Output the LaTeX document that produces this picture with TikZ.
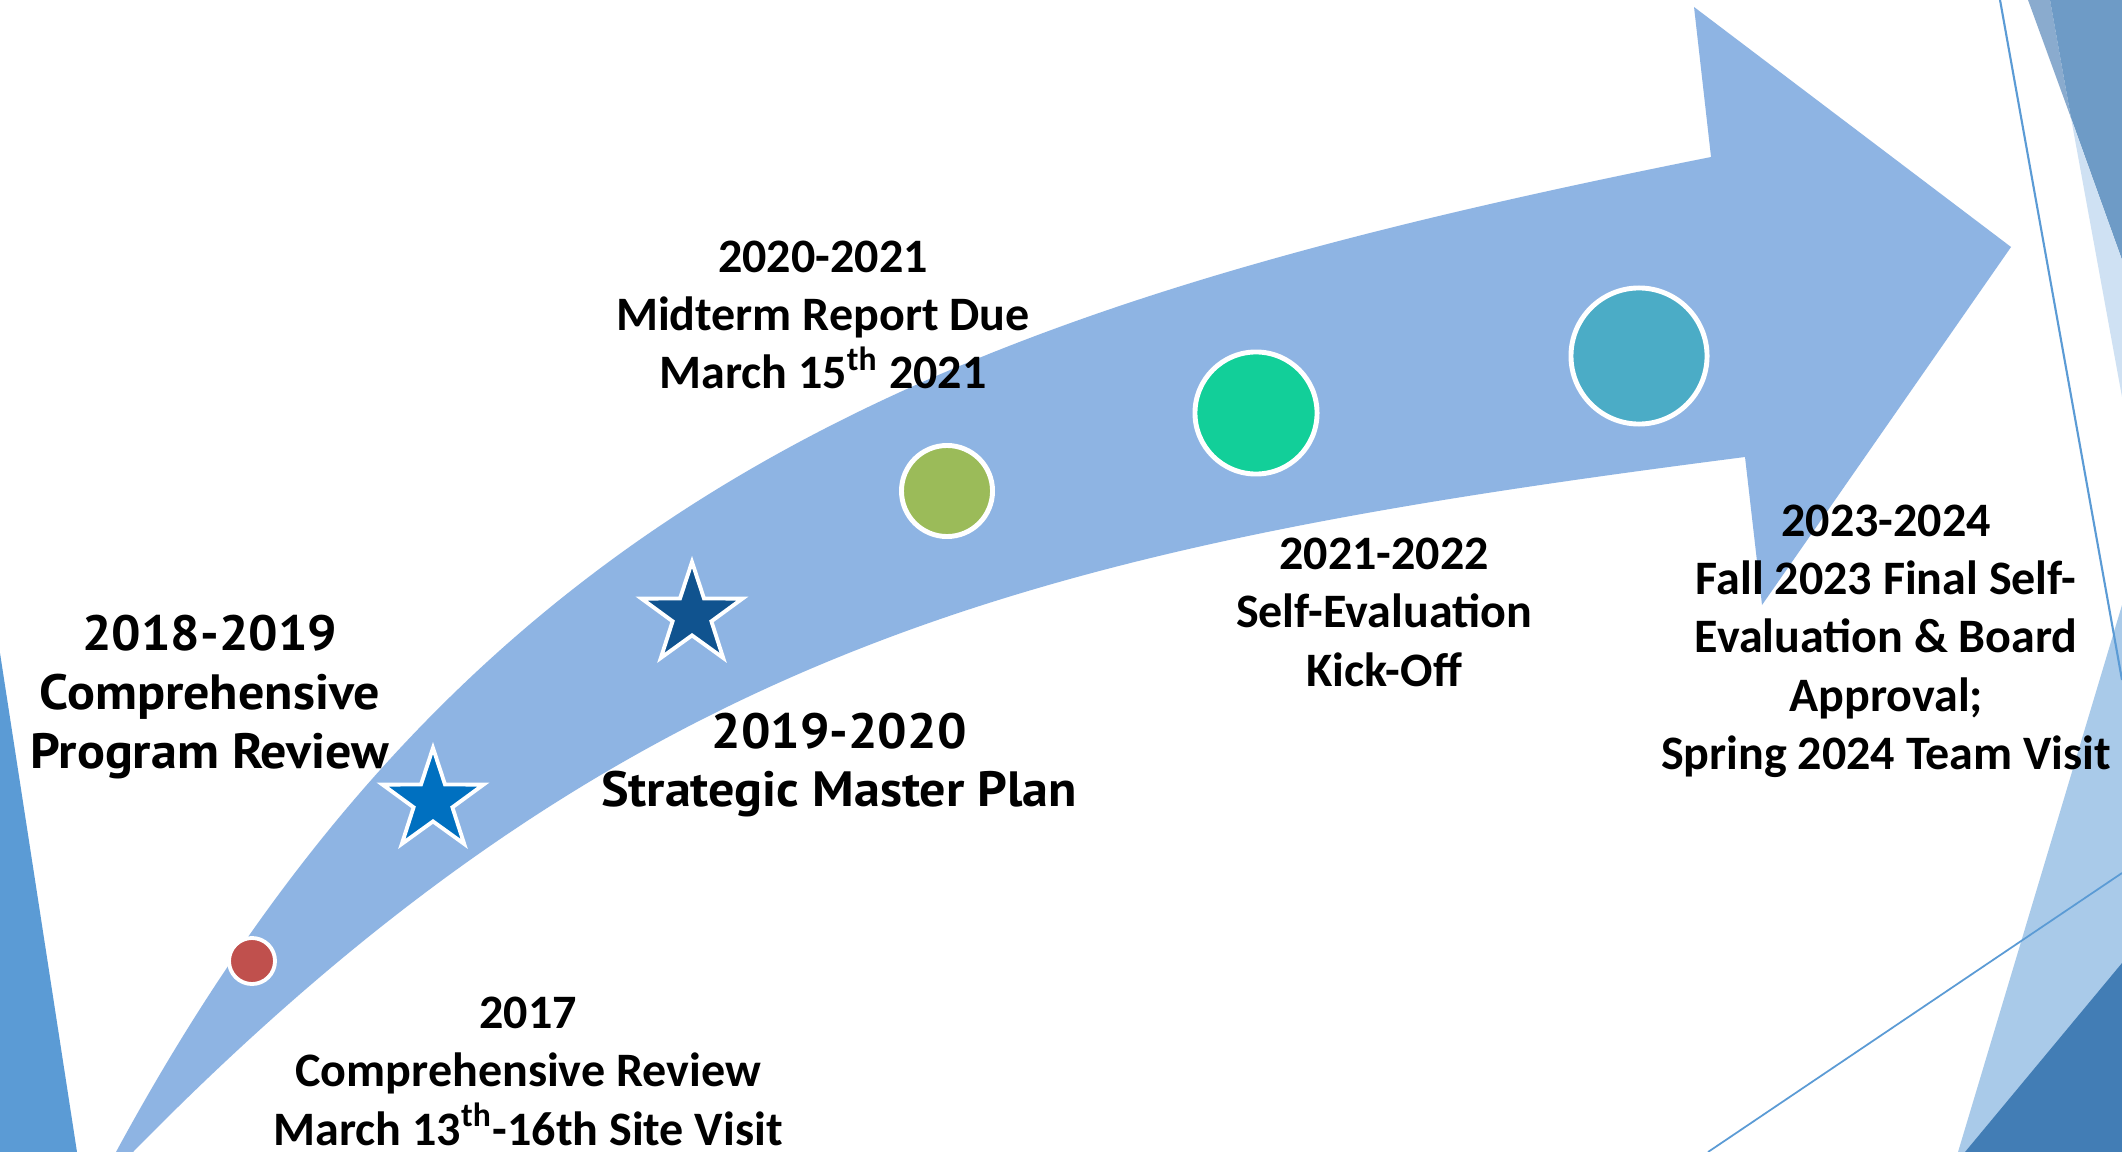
\documentclass[tikz,border=0pt]{standalone}
\usepackage{fontspec}
\setmainfont{Carlito}
\newfontfamily\trebfont[FakeStretch=1.05]{PT Sans}
\usetikzlibrary{shapes.geometric,positioning}
\definecolor{bandblue}{HTML}{8EB4E3}
\definecolor{edgeblue}{HTML}{5B9BD5}
\definecolor{facetA}{HTML}{8AABCE}
\definecolor{facetB}{HTML}{6E9BC6}
\definecolor{facetC}{HTML}{CFE1F3}
\definecolor{facetD}{HTML}{A9CAE9}
\definecolor{facetE}{HTML}{427DB5}
\definecolor{dotred}{HTML}{C0504D}
\definecolor{dotolive}{HTML}{9BBB59}
\definecolor{dotgreen}{HTML}{12CF99}
\definecolor{dotteal}{HTML}{4BACC6}
\definecolor{starblue}{HTML}{0070C0}
\definecolor{stardark}{HTML}{10538F}
\begin{document}
\begin{tikzpicture}[x=0.01cm,y=-0.01cm,on grid,
  dot/.style={circle,draw=white,line width=1.4pt,inner sep=0pt},
  mstar/.style={star,star points=5,star point ratio=2.6,draw=white,line width=1.1pt,inner sep=0pt,minimum size=1.06cm},
  lbl/.style={align=center,inner sep=0pt,font=\bfseries\fontsize{13.66pt}{16.6pt}\selectfont},
  tlbl/.style={lbl,font=\trebfont\bfseries\fontsize{14.1pt}{16.7pt}\selectfont}]
  \useasboundingbox (0,0) rectangle (2122,1152);
  \clip (0,0) rectangle (2122,1152);
  \fill[white] (0,0) rectangle (2122,1152);
  \fill[edgeblue] (0,653) -- (77,1152) -- (0,1152) -- cycle;
  \fill[facetA] (2028,0) -- (2050,0) -- (2071,118) -- cycle;
  \fill[facetB] (2050,0) -- (2122,0) -- (2122,260) -- (2071,118) -- cycle;
  \fill[facetC] (2071,118) -- (2122,260) -- (2122,397) -- cycle;
  \fill[facetD] (1958,1152) -- (2122,605) -- (2122,1152) -- cycle;
  \fill[facetE] (1965,1152) -- (2122,963) -- (2122,1152) -- cycle;
  \draw[edgeblue,line width=0.6pt] (2000,0) -- (2122,680);
  \draw[edgeblue,line width=0.5pt] (1708,1152) -- (2122,873);
  \fill[bandblue] (116,1152) .. controls (480,480) and (961,307) .. (1711,157)
    -- (1694,7) -- (2011,247) -- (1762,605) -- (1745,457)
    .. controls (1045,547) and (633,642) .. (133,1152) -- cycle;
  \node[dot,fill=dotred,line width=1.1pt,minimum size=0.46cm] (r1) at (252,961) {};
  \node[mstar,fill=starblue] (s1) at (433,801) {};
  \node[mstar,fill=stardark] (s2) at (692,615) {};
  \node[dot,fill=dotolive,minimum size=0.91cm] (c3) at (947,491) {};
  \node[dot,fill=dotgreen,minimum size=1.22cm] (c4) at (1256,413) {};
  \node[dot,fill=dotteal,minimum size=1.36cm] (c5) at (1639,356) {};
  \node[lbl] (l17) [below right=1.10cm and 2.76cm of r1]
    {2017\\Comprehensive Review\\March 13\textsuperscript{th}-16th Site Visit};
  \node[tlbl] (l18) [above left=1.04cm and 2.23cm of s1]
    {2018-2019\\Comprehensive\\Program Review};
  \node[tlbl] (l19) [below right=1.50cm and 1.47cm of s2]
    {2019-2020\\Strategic Master Plan};
  \node[lbl] (l20) [above left=1.76cm and 1.24cm of c3]
    {2020-2021\\Midterm Report Due\\March 15\textsuperscript{th} 2021};
  \node[lbl] (l21) [below right=1.99cm and 1.28cm of c4]
    {2021-2022\\Self-Evaluation\\Kick-Off};
  \node[lbl] (l23) [below right=2.85cm and 2.47cm of c5]
    {2023-2024\\Fall 2023 Final Self-\\Evaluation \& Board\\Approval;\\Spring 2024 Team Visit};
\end{tikzpicture}
\end{document}
